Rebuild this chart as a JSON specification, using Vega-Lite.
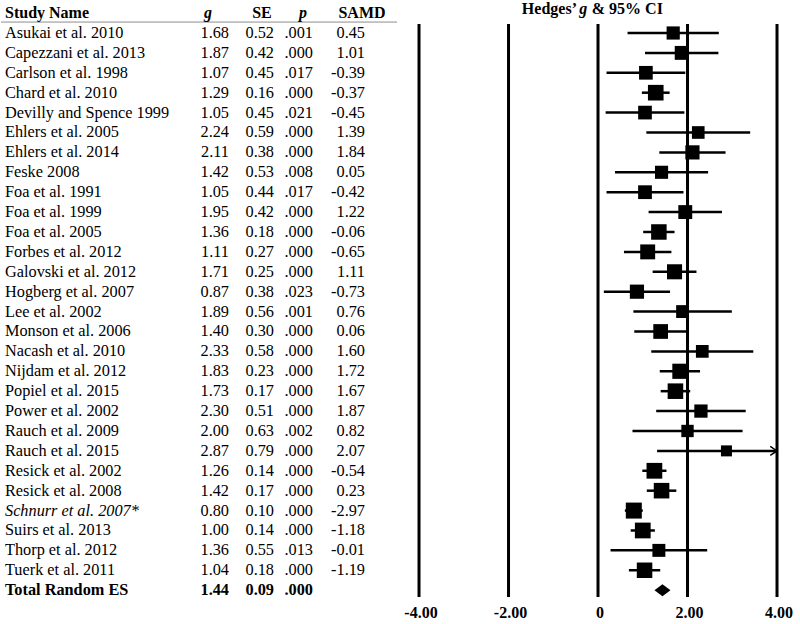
{
  "$schema": "https://vega.github.io/schema/vega-lite/v6.json",
  "padding": 0,
  "spacing": 0,
  "bounds": "flush",
  "background": "white",
  "config": {
    "view": {"stroke": null},
    "concat": {"spacing": 0},
    "text": {"font": "Liberation Serif", "fontSize": 16.3, "baseline": "middle", "color": "black"}
  },
  "datasets": {
    "studies": [
      {"row": 1, "name": "Asukai et al. 2010", "g": 1.68, "se": 0.52, "p": ".001", "samd": "0.45", "lo": 0.66, "hi": 2.70},
      {"row": 2, "name": "Capezzani et al. 2013", "g": 1.87, "se": 0.42, "p": ".000", "samd": "1.01", "lo": 1.05, "hi": 2.69},
      {"row": 3, "name": "Carlson et al. 1998", "g": 1.07, "se": 0.45, "p": ".017", "samd": "-0.39", "lo": 0.19, "hi": 1.95},
      {"row": 4, "name": "Chard et al. 2010", "g": 1.29, "se": 0.16, "p": ".000", "samd": "-0.37", "lo": 0.98, "hi": 1.60},
      {"row": 5, "name": "Devilly and Spence 1999", "g": 1.05, "se": 0.45, "p": ".021", "samd": "-0.45", "lo": 0.17, "hi": 1.93},
      {"row": 6, "name": "Ehlers et al. 2005", "g": 2.24, "se": 0.59, "p": ".000", "samd": "1.39", "lo": 1.08, "hi": 3.40},
      {"row": 7, "name": "Ehlers et al. 2014", "g": 2.11, "se": 0.38, "p": ".000", "samd": "1.84", "lo": 1.37, "hi": 2.85},
      {"row": 8, "name": "Feske 2008", "g": 1.42, "se": 0.53, "p": ".008", "samd": "0.05", "lo": 0.38, "hi": 2.46},
      {"row": 9, "name": "Foa et al. 1991", "g": 1.05, "se": 0.44, "p": ".017", "samd": "-0.42", "lo": 0.19, "hi": 1.91},
      {"row": 10, "name": "Foa et al. 1999", "g": 1.95, "se": 0.42, "p": ".000", "samd": "1.22", "lo": 1.13, "hi": 2.77},
      {"row": 11, "name": "Foa et al. 2005", "g": 1.36, "se": 0.18, "p": ".000", "samd": "-0.06", "lo": 1.01, "hi": 1.71},
      {"row": 12, "name": "Forbes et al. 2012", "g": 1.11, "se": 0.27, "p": ".000", "samd": "-0.65", "lo": 0.58, "hi": 1.64},
      {"row": 13, "name": "Galovski et al. 2012", "g": 1.71, "se": 0.25, "p": ".000", "samd": "1.11", "lo": 1.22, "hi": 2.20},
      {"row": 14, "name": "Hogberg et al. 2007", "g": 0.87, "se": 0.38, "p": ".023", "samd": "-0.73", "lo": 0.13, "hi": 1.61},
      {"row": 15, "name": "Lee et al. 2002", "g": 1.89, "se": 0.56, "p": ".001", "samd": "0.76", "lo": 0.79, "hi": 2.99},
      {"row": 16, "name": "Monson et al. 2006", "g": 1.40, "se": 0.30, "p": ".000", "samd": "0.06", "lo": 0.81, "hi": 1.99},
      {"row": 17, "name": "Nacash et al. 2010", "g": 2.33, "se": 0.58, "p": ".000", "samd": "1.60", "lo": 1.19, "hi": 3.47},
      {"row": 18, "name": "Nijdam et al. 2012", "g": 1.83, "se": 0.23, "p": ".000", "samd": "1.72", "lo": 1.38, "hi": 2.28},
      {"row": 19, "name": "Popiel et al. 2015", "g": 1.73, "se": 0.17, "p": ".000", "samd": "1.67", "lo": 1.40, "hi": 2.06},
      {"row": 20, "name": "Power et al. 2002", "g": 2.30, "se": 0.51, "p": ".000", "samd": "1.87", "lo": 1.30, "hi": 3.30},
      {"row": 21, "name": "Rauch et al. 2009", "g": 2.00, "se": 0.63, "p": ".002", "samd": "0.82", "lo": 0.77, "hi": 3.23},
      {"row": 22, "name": "Rauch et al. 2015", "g": 2.87, "se": 0.79, "p": ".000", "samd": "2.07", "lo": 1.32, "hi": 4.42},
      {"row": 23, "name": "Resick et al. 2002", "g": 1.26, "se": 0.14, "p": ".000", "samd": "-0.54", "lo": 0.99, "hi": 1.53},
      {"row": 24, "name": "Resick et al. 2008", "g": 1.42, "se": 0.17, "p": ".000", "samd": "0.23", "lo": 1.09, "hi": 1.75},
      {"row": 25, "name": "Schnurr et al. 2007*", "g": 0.80, "se": 0.10, "p": ".000", "samd": "-2.97", "lo": 0.60, "hi": 1.00},
      {"row": 26, "name": "Suirs et al. 2013", "g": 1.00, "se": 0.14, "p": ".000", "samd": "-1.18", "lo": 0.73, "hi": 1.27},
      {"row": 27, "name": "Thorp et al. 2012", "g": 1.36, "se": 0.55, "p": ".013", "samd": "-0.01", "lo": 0.28, "hi": 2.44},
      {"row": 28, "name": "Tuerk et al. 2011", "g": 1.04, "se": 0.18, "p": ".000", "samd": "-1.19", "lo": 0.69, "hi": 1.39},
      {"row": 29, "name": "Total Random ES", "g": 1.44, "se": 0.09, "p": ".000", "samd": "", "lo": null, "hi": null}
    ],
    "ticks": [
      {"tick": -4, "label": "-4.00"},
      {"tick": -2, "label": "-2.00"},
      {"tick": 0, "label": "0"},
      {"tick": 2, "label": "2.00"},
      {"tick": 4, "label": "4.00"}
    ]
  },
  "hconcat": [
    {
      "width": 190, "height": 624,
      "layer": [
        {"data": {"values": [{"line": "header"}]}, "mark": {"type": "rule", "color": "#8c8c8c", "strokeWidth": 1}, "encoding": {"y": {"datum": 0.45, "type": "quantitative", "scale": {"domain": [-0.658, 30.70], "reverse": true, "nice": false, "zero": false}, "axis": null}}},
        {"data": {"values": [{"label": "Study Name"}]}, "mark": {"type": "text", "x": 0, "dx": 4, "align": "left", "fontWeight": "bold", "fontSize": 16}, "encoding": {"y": {"datum": 0}, "text": {"field": "label"}}},
        {"data": {"name": "studies"}, "transform": [{"filter": "datum.row < 29 && datum.name !== 'Schnurr et al. 2007*'"}], "mark": {"type": "text", "x": 0, "dx": 4, "align": "left"}, "encoding": {"y": {"field": "row", "type": "quantitative"}, "text": {"field": "name"}}},
        {"data": {"name": "studies"}, "transform": [{"filter": "datum.name === 'Schnurr et al. 2007*'"}], "mark": {"type": "text", "x": 0, "dx": 4, "align": "left", "fontStyle": "italic"}, "encoding": {"y": {"field": "row", "type": "quantitative"}, "text": {"field": "name"}}},
        {"data": {"name": "studies"}, "transform": [{"filter": "datum.row === 29"}], "mark": {"type": "text", "x": 0, "dx": 4, "align": "left", "fontWeight": "bold"}, "encoding": {"y": {"field": "row", "type": "quantitative"}, "text": {"field": "name"}}}
      ]
    },
    {
      "width": 38, "height": 624,
      "layer": [
        {"data": {"values": [{"line": "header"}]}, "mark": {"type": "rule", "color": "#8c8c8c", "strokeWidth": 1}, "encoding": {"y": {"datum": 0.45, "type": "quantitative", "scale": {"domain": [-0.658, 30.70], "reverse": true, "nice": false, "zero": false}, "axis": null}}},
        {"data": {"values": [{"label": "g"}]}, "mark": {"type": "text", "x": "width", "dx": -21, "align": "center", "fontWeight": "bold", "fontStyle": "italic", "fontSize": 16}, "encoding": {"y": {"datum": 0}, "text": {"field": "label"}}},
        {"data": {"name": "studies"}, "transform": [{"filter": "datum.row < 29"}], "mark": {"type": "text", "x": "width", "align": "right"}, "encoding": {"y": {"field": "row", "type": "quantitative"}, "text": {"field": "g", "type": "quantitative", "format": ".2f"}}},
        {"data": {"name": "studies"}, "transform": [{"filter": "datum.row === 29"}], "mark": {"type": "text", "x": "width", "align": "right", "fontWeight": "bold"}, "encoding": {"y": {"field": "row", "type": "quantitative"}, "text": {"field": "g", "type": "quantitative", "format": ".2f"}}}
      ]
    },
    {
      "width": 45, "height": 624,
      "layer": [
        {"data": {"values": [{"line": "header"}]}, "mark": {"type": "rule", "color": "#8c8c8c", "strokeWidth": 1}, "encoding": {"y": {"datum": 0.45, "type": "quantitative", "scale": {"domain": [-0.658, 30.70], "reverse": true, "nice": false, "zero": false}, "axis": null}}},
        {"data": {"values": [{"label": "SE"}]}, "mark": {"type": "text", "x": "width", "dx": -12, "align": "center", "fontWeight": "bold", "fontSize": 16}, "encoding": {"y": {"datum": 0}, "text": {"field": "label"}}},
        {"data": {"name": "studies"}, "transform": [{"filter": "datum.row < 29"}], "mark": {"type": "text", "x": "width", "align": "right"}, "encoding": {"y": {"field": "row", "type": "quantitative"}, "text": {"field": "se", "type": "quantitative", "format": ".2f"}}},
        {"data": {"name": "studies"}, "transform": [{"filter": "datum.row === 29"}], "mark": {"type": "text", "x": "width", "align": "right", "fontWeight": "bold"}, "encoding": {"y": {"field": "row", "type": "quantitative"}, "text": {"field": "se", "type": "quantitative", "format": ".2f"}}}
      ]
    },
    {
      "width": 39, "height": 624,
      "layer": [
        {"data": {"values": [{"line": "header"}]}, "mark": {"type": "rule", "color": "#8c8c8c", "strokeWidth": 1}, "encoding": {"y": {"datum": 0.45, "type": "quantitative", "scale": {"domain": [-0.658, 30.70], "reverse": true, "nice": false, "zero": false}, "axis": null}}},
        {"data": {"values": [{"label": "p"}]}, "mark": {"type": "text", "x": "width", "dx": -10, "align": "center", "fontWeight": "bold", "fontStyle": "italic", "fontSize": 16}, "encoding": {"y": {"datum": 0}, "text": {"field": "label"}}},
        {"data": {"name": "studies"}, "transform": [{"filter": "datum.row < 29"}], "mark": {"type": "text", "x": "width", "align": "right"}, "encoding": {"y": {"field": "row", "type": "quantitative"}, "text": {"field": "p", "type": "nominal"}}},
        {"data": {"name": "studies"}, "transform": [{"filter": "datum.row === 29"}], "mark": {"type": "text", "x": "width", "align": "right", "fontWeight": "bold"}, "encoding": {"y": {"field": "row", "type": "quantitative"}, "text": {"field": "p", "type": "nominal"}}}
      ]
    },
    {
      "width": 84, "height": 624,
      "layer": [
        {"data": {"values": [{"line": "header"}]}, "mark": {"type": "rule", "color": "#8c8c8c", "strokeWidth": 1}, "encoding": {"y": {"datum": 0.45, "type": "quantitative", "scale": {"domain": [-0.658, 30.70], "reverse": true, "nice": false, "zero": false}, "axis": null}}},
        {"data": {"values": [{"label": "SAMD"}]}, "mark": {"type": "text", "x": "width", "dx": -35, "align": "center", "fontWeight": "bold", "fontSize": 16}, "encoding": {"y": {"datum": 0}, "text": {"field": "label"}}},
        {"data": {"name": "studies"}, "transform": [{"filter": "datum.row < 29"}], "mark": {"type": "text", "x": "width", "dx": -32, "align": "right"}, "encoding": {"y": {"field": "row", "type": "quantitative"}, "text": {"field": "samd", "type": "nominal"}}}
      ]
    },
    {
      "width": 404, "height": 624,
      "layer": [
        {"data": {"name": "ticks"}, "mark": {"type": "rule", "color": "black", "strokeWidth": 3}, "encoding": {"x": {"field": "tick", "type": "quantitative", "scale": {"domain": [-4.492, 4.536], "nice": false, "zero": false}, "axis": null}, "y": {"datum": 0.55, "type": "quantitative", "scale": {"domain": [-0.658, 30.70], "reverse": true, "nice": false, "zero": false}, "axis": null}, "y2": {"datum": 29.34}}},
        {"data": {"name": "ticks"}, "mark": {"type": "text", "fontWeight": "bold", "fontSize": 16, "align": "center", "dx": 2}, "encoding": {"x": {"field": "tick", "type": "quantitative"}, "y": {"datum": 30.15}, "text": {"field": "label"}}},
        {"data": {"name": "studies"}, "transform": [{"filter": "datum.row < 29 && datum.hi <= 4"}], "mark": {"type": "rule", "color": "black", "strokeWidth": 2.5}, "encoding": {"y": {"field": "row", "type": "quantitative"}, "x": {"field": "lo", "type": "quantitative"}, "x2": {"field": "hi"}}},
        {"data": {"name": "studies"}, "transform": [{"filter": "datum.row < 29 && datum.hi > 4"}], "mark": {"type": "rule", "color": "black", "strokeWidth": 2.5}, "encoding": {"y": {"field": "row", "type": "quantitative"}, "x": {"field": "lo", "type": "quantitative"}, "x2": {"datum": 4}}},
        {"data": {"name": "studies"}, "transform": [{"filter": "datum.row < 29 && datum.hi > 4"}], "mark": {"type": "point", "shape": "M -1.5 -1 L 0 0 L -1.5 1", "filled": false, "stroke": "black", "strokeWidth": 1.5, "size": 81, "opacity": 1}, "encoding": {"y": {"field": "row", "type": "quantitative"}, "x": {"datum": 4}}},
        {"data": {"name": "studies"}, "transform": [{"filter": "datum.row < 29"}], "mark": {"type": "point", "shape": "square", "filled": true, "color": "black", "opacity": 1}, "encoding": {"y": {"field": "row", "type": "quantitative"}, "x": {"field": "g", "type": "quantitative"}, "size": {"field": "se", "type": "quantitative", "scale": {"type": "linear", "domain": [0.1, 0.79], "range": [256, 121]}, "legend": null}}},
        {"data": {"name": "studies"}, "transform": [{"filter": "datum.row === 29"}], "mark": {"type": "point", "shape": "M -1 0 L 0 -0.75 L 1 0 L 0 0.75 Z", "filled": true, "color": "black", "size": 256, "opacity": 1}, "encoding": {"y": {"field": "row", "type": "quantitative"}, "x": {"field": "g", "type": "quantitative"}}},
        {"data": {"values": [{"part": "Hedges’"}]}, "mark": {"type": "text", "fontWeight": "bold", "fontSize": 16, "align": "right"}, "encoding": {"x": {"datum": -0.47}, "y": {"datum": -0.2}, "text": {"field": "part"}}},
        {"data": {"values": [{"part": "g"}]}, "mark": {"type": "text", "fontWeight": "bold", "fontStyle": "italic", "fontSize": 16, "align": "center"}, "encoding": {"x": {"datum": -0.33}, "y": {"datum": -0.2}, "text": {"field": "part"}}},
        {"data": {"values": [{"part": "& 95% CI"}]}, "mark": {"type": "text", "fontWeight": "bold", "fontSize": 16, "align": "left"}, "encoding": {"x": {"datum": -0.14}, "y": {"datum": -0.2}, "text": {"field": "part"}}}
      ]
    }
  ]
}
